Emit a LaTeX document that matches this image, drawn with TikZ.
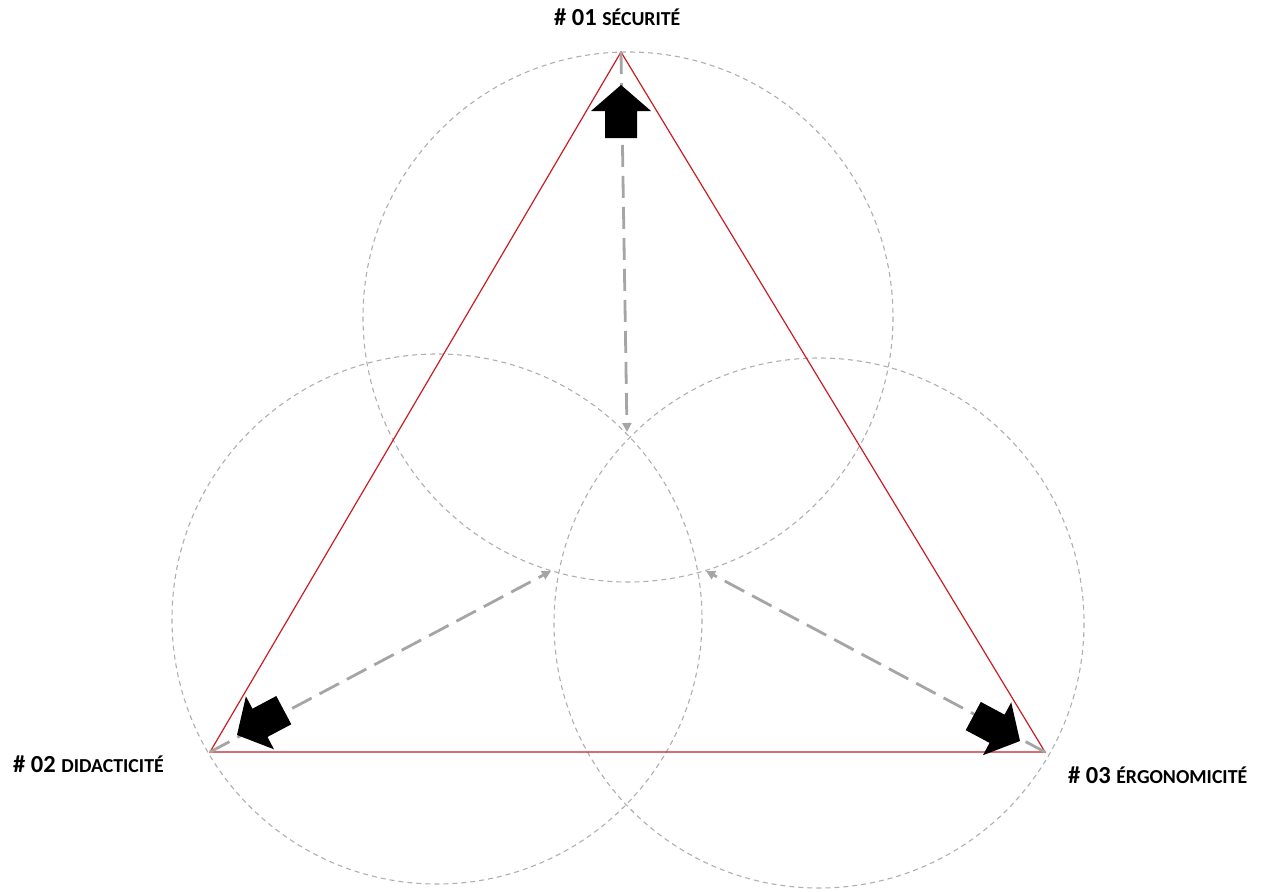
\documentclass[tikz,border=0pt]{standalone}
\usepackage{fontspec}
\setmainfont{Carlito}
\usetikzlibrary{arrows.meta}
\definecolor{circgray}{RGB}{175,175,175}
\definecolor{arrgray}{RGB}{165,165,165}
\definecolor{trired}{RGB}{200,30,35}
\tikzset{
  circ/.style={draw=circgray, line width=1.1pt, dash pattern=on 5pt off 4pt},
  tri/.style={draw=trired, line width=1.2pt, line join=miter},
  darr/.style={draw=arrgray, line width=2.8pt, dash pattern=on 22pt off 9pt, -{Triangle[length=9pt,width=9pt]}},
  lbl/.style={inner sep=0pt, anchor=base west, font=\bfseries\fontsize{24.5}{26}\selectfont},
  blockarrow/.pic={\fill[black] (0,0) -- (-26,30) -- (-26,16) -- (-53,16) -- (-53,-16) -- (-26,-16) -- (-26,-30) -- cycle;}
}
\newcommand{\smallcap}[1]{{\fontsize{19.8}{21}\selectfont #1}}
\begin{document}
\begin{tikzpicture}[x=1pt,y=-1pt]
\useasboundingbox (0,0) rectangle (1268,891);
% circles
\draw[circ] (628,317) circle[radius=265];
\draw[circ] (437,619) circle[radius=265];
\draw[circ] (819,623) circle[radius=265];
% triangle
\coordinate (A) at (621,52);
\coordinate (B) at (210,752);
\coordinate (C) at (1045,752);
\draw[tri] (A) -- (B) -- (C) -- cycle;
% targets
\coordinate (tA) at (627,432);
\coordinate (tB) at (551,571);
\coordinate (tC) at (706,571);
\draw[darr] (A) -- (tA);
\draw[darr] (B) -- (tB);
\draw[darr] (C) -- (tC);
% block arrows
\pic[rotate=90] at (621,85) {blockarrow};
\pic[rotate=207.96] at (237,735) {blockarrow};
\pic[rotate=-28.1] at (1020,741) {blockarrow};
% labels
\node[lbl] (l1) at (554,26) {\# 01 \smallcap{SÉCURITÉ}};
\node[lbl] (l2) at (13,772) {\# 02 \smallcap{DIDACTICITÉ}};
\node[lbl] (l3) at (1068,783) {\# 03 \smallcap{ÉRGONOMICITÉ}};
\end{tikzpicture}
\end{document}
